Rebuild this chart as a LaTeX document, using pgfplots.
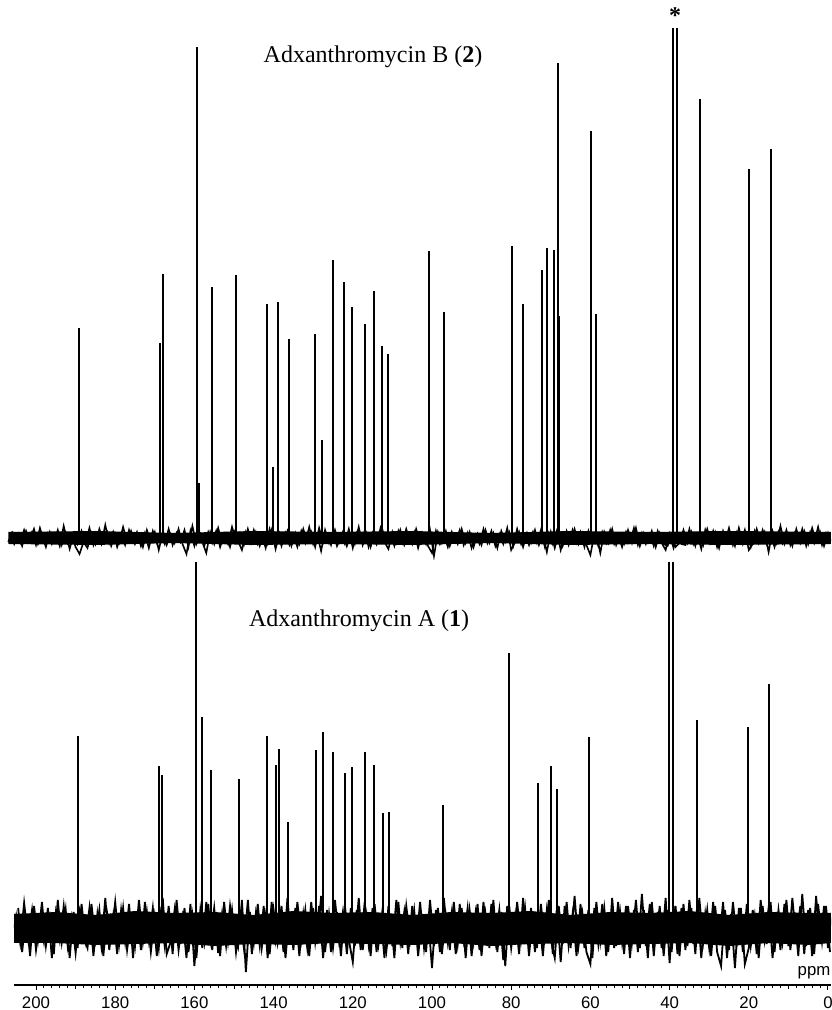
\documentclass[border=0pt]{standalone}
\usepackage{fontspec}
\setmainfont{Liberation Serif}
\setsansfont{Liberation Sans}
\usepackage{pgfplots}
\pgfplotsset{compat=1.18}
\begin{document}
\begin{tikzpicture}
% 1 px of the reference = 0.5pt
% --- top spectrum: Adxanthromycin B (2) ---
\begin{axis}[
    at={(0pt,212.5pt)}, anchor=south west,
    scale only axis, width=415.5pt, height=280pt,
    x dir=reverse, xmin=-0.76, xmax=209.09,
    ymin=-22, ymax=538,
    hide axis,
]
% dense core of the noise band
\addplot[fill=black, draw=none] coordinates {
(207,6)(185,7)(165,5)(145,7)(125,6)(105,7)(85,5)(65,7)(45,6)(25,7)(-0.7,6)
(-0.7,-6)(25,-7)(45,-6)(65,-7)(85,-5)(105,-7)(125,-6)(145,-7)(165,-5)(185,-7)(207,-6)
} -- cycle;
% noise
\addplot[black, line width=0.8pt] coordinates {
(207,-4)(206,6)(205,3)(204,-5)(203,8)(202,-4)(201,6)(200,-7)(199,10)(198,-3)(197,5)(196,-6)
(195,4)(194,-8)(193,12)(192,-5)(191,3)(190,-9)(189,-16)(188,-4)(187,-10)(186,5)
(185,-6)(184,9)(183,-3)(182,6)(181,-8)(180,4)(179,-5)(178,11)(177,-4)(176,7)
(175,-6)(174,3)(173,-9)(172,8)(171,-4)(170,6)(169,-12)(168,5)(167,-7)(166,4)
(165,-5)(164,9)(163,-6)(162,-16)(161,7)(160,-8)(159,5)(158,-4)(157,-15)(156,6)
(155,-6)(154,10)(153,-5)(152,4)(151,-9)(150,7)(149,-3)(148,-12)(147,6)(146,-5)
(145,8)(144,-6)(143,4)(142,-10)(141,9)(140,-4)(139,6)(138,-8)(137,5)(136,-7)
(135,3)(134,-9)(133,7)(132,-5)(131,11)(130,-6)(129,4)(128,-13)(127,8)(126,-5)
(125,6)(124,-8)(123,4)(122,-6)(121,9)(120,-10)(119,5)(118,-4)(117,7)(116,-9)
(115,5)(114,-6)(113,10)(112,-4)(111,-11)(110,6)(109,-5)(108,8)(107,-7)(106,4)
(105,-6)(104,9)(103,-5)(102,3)(101,-8)(100,-15)(99,7)(98,-6)(97,4)(96,-9)
(95,6)(94,-4)(93,8)(92,-7)(91,5)(90,-10)(89,3)(88,-6)(87,9)(86,-5)
(85,7)(84,-8)(83,4)(82,-6)(81,10)(80,-12)(79,-4)(78,6)(77,-9)(76,5)
(75,-5)(74,8)(73,-7)(72,4)(71,-14)(70,6)(69,-10)(68,5)(67,-8)(66,7)
(65,-4)(64,9)(63,-6)(62,5)(61,-7)(60,-17)(59,4)(58,-8)(57,6)(56,-5)
(55,8)(54,-6)(53,3)(52,-9)(51,6)(50,-4)(49,10)(48,-7)(47,5)(46,-6)
(45,4)(44,-8)(43,7)(42,-5)(41,-12)(40,4)(39,-10)(38,5)(37,-6)(36,-7)
(35,9)(34,-6)(33,4)(32,-11)(31,8)(30,-5)(29,7)(28,-9)(27,5)(26,-4)
(25,10)(24,-7)(23,6)(22,-5)(21,8)(20,-12)(19,-6)(18,9)(17,-4)(16,6)
(15,-14)(14,7)(13,-5)(12,12)(11,-6)(10,4)(9,-8)(8,9)(7,-5)(6,7)
(5,-6)(4,10)(3,-4)(2,6)(1,-8)(0,5)(-0.7,-3)
};
\addplot[black, line width=0.8pt] coordinates {
(206.5,5)(205.5,-6)(204.5,4)(203.5,-8)(202.5,7)(201.5,-3)(200.5,9)(199.5,-6)(198.5,3)(197.5,-9)
(196.5,6)(195.5,-4)(194.5,8)(193.5,-7)(192.5,5)(191.5,-11)(190.5,4)(189.5,-6)(188.5,7)(187.5,-5)
(186.5,10)(185.5,-7)(184.5,4)(183.5,-6)(182.5,13)(181.5,-5)(180.5,6)(179.5,-9)(178.5,3)(177.5,-7)
(176.5,8)(175.5,-4)(174.5,6)(173.5,-8)(172.5,5)(171.5,-10)(170.5,7)(169.5,-5)(168.5,4)(167.5,-6)
(166.5,9)(165.5,-7)(164.5,5)(163.5,-4)(162.5,8)(161.5,-9)(160.5,12)(159.5,-6)(158.5,4)(157.5,-8)
(156.5,6)(155.5,-5)(154.5,7)(153.5,-9)(152.5,4)(151.5,-6)(150.5,11)(149.5,-4)(148.5,5)(147.5,-7)
(146.5,9)(145.5,-5)(144.5,6)(143.5,-8)(142.5,4)(141.5,-6)(140.5,8)(139.5,-11)(138.5,5)(137.5,-4)
(136.5,7)(135.5,-8)(134.5,5)(133.5,-6)(132.5,9)(131.5,-4)(130.5,6)(129.5,-9)(128.5,10)(127.5,-5)
(126.5,4)(125.5,-7)(124.5,8)(123.5,-5)(122.5,6)(121.5,-8)(120.5,4)(119.5,-6)(118.5,11)(117.5,-7)
(116.5,5)(115.5,-9)(114.5,6)(113.5,-4)(112.5,8)(111.5,-6)(110.5,4)(109.5,-8)(108.5,7)(107.5,-5)
(106.5,9)(105.5,-4)(104.5,6)(103.5,-10)(102.5,5)(101.5,-6)(100.5,8)(99.5,-18)(98.5,6)(97.5,-5)
(96.5,7)(95.5,-8)(94.5,4)(93.5,-6)(92.5,9)(91.5,-5)(90.5,6)(89.5,-9)(88.5,4)(87.5,-7)
(86.5,8)(85.5,-5)(84.5,5)(83.5,-10)(82.5,7)(81.5,-4)(80.5,6)(79.5,-8)(78.5,9)(77.5,-6)
(76.5,4)(75.5,-7)(74.5,6)(73.5,-5)(72.5,8)(71.5,-9)(70.5,5)(69.5,-6)(68.5,7)(67.5,-12)
(66.5,4)(65.5,-7)(64.5,8)(63.5,-5)(62.5,6)(61.5,-9)(60.5,7)(59.5,-6)(58.5,5)(57.5,-15)
(56.5,6)(55.5,-5)(54.5,9)(53.5,-7)(52.5,4)(51.5,-6)(50.5,8)(49.5,-5)(48.5,10)(47.5,-8)
(46.5,5)(45.5,-4)(44.5,7)(43.5,-9)(42.5,5)(41.5,-6)(40.5,-8)(39.5,3)(38.5,-9)(37.5,-5)
(36.5,8)(35.5,-5)(34.5,6)(33.5,-8)(32.5,5)(31.5,-7)(30.5,9)(29.5,-4)(28.5,6)(27.5,-10)
(26.5,7)(25.5,-5)(24.5,4)(23.5,-8)(22.5,10)(21.5,-6)(20.5,5)(19.5,-9)(18.5,7)(17.5,-5)
(16.5,8)(15.5,-6)(14.5,4)(13.5,-9)(12.5,6)(11.5,-5)(10.5,8)(9.5,-7)(8.5,5)(7.5,-4)
(6.5,9)(5.5,-8)(4.5,6)(3.5,-5)(2.5,11)(1.5,-7)(0.5,5)(-0.5,-4)
};
% peaks
\addplot[ycomb, black, line width=1.1pt] coordinates {
(189.1,210)(168.69,195)(167.93,264)(159.34,491)(158.84,55)(155.56,251)
(149.49,263)(141.67,234)(140.15,71)(138.89,236)(136.11,199)(129.55,204)
(127.78,98)(125.0,278)(122.22,256)(120.2,231)(116.92,214)(114.65,247)
(112.63,192)(111.11,184)(100.76,287)(96.97,226)(79.8,292)(77.02,234)
(72.22,268)(70.96,290)(69.19,288)(68.18,475)(67.93,222)(59.85,407)
(58.59,224)(39.14,510)(38.13,510)(32.32,439)(19.95,369)(14.39,389)
};
\node[font=\fontsize{12}{14}\selectfont] at (axis cs:114.9,481) {Adxanthromycin B (\textbf{2})};
\node[font=\bfseries\fontsize{12}{14}\selectfont, inner sep=0pt] at (axis cs:38.6,522) {*};
\end{axis}

% --- bottom spectrum: Adxanthromycin A (1) ---
\begin{axis}[
    at={(7pt,0pt)}, anchor=south west,
    scale only axis, width=408.5pt, height=211pt,
    x dir=reverse, xmin=-0.76, xmax=205.56,
    ymin=-57, ymax=365,
    axis x line=bottom, axis y line=none,
    axis line style={-, line width=0.75pt},
    xtick={0,20,...,200},
    minor x tick num=9,
    extra x ticks={10,30,...,190},
    extra x tick labels={},
    extra x tick style={major tick length=1.8pt},
    tick align=outside,
    major tick length=2.4pt, minor tick length=1.3pt,
    tick style={black, line width=0.5pt},
    xticklabel style={font=\sffamily\fontsize{8.4}{9}\selectfont, inner sep=0pt, yshift=-3.5pt},
    /pgf/number format/assume math mode=true,
]
% dense core of the noise band
\addplot[fill=black, draw=none] coordinates {
(205.5,14)(195,16)(185,13)(175,17)(165,15)(155,16)(145,13)(135,17)(125,15)(115,16)(105,13)
(95,16)(85,15)(75,17)(65,13)(55,16)(45,15)(35,17)(25,13)(15,16)(5,15)(-0.7,15)
(-0.7,-15)(5,-17)(15,-15)(25,-18)(35,-15)(45,-16)(55,-17)(65,-15)(75,-16)(85,-18)(95,-15)
(105,-17)(115,-16)(125,-15)(135,-17)(145,-16)(155,-18)(165,-15)(175,-16)(185,-17)(195,-15)(205.5,-15)
} -- cycle;
% noise
\addplot[black, line width=0.9pt] coordinates {
(205.5,0)(205,12)(204,-15)(203,25)(202,-10)(201,18)(200,-22)(199,8)(198,-14)(197,20)(196,-30)
(195,15)(194,-12)(193,22)(192,-18)(191,10)(190,-25)(189,16)(188,-8)(187,-20)(186,24)
(185,-12)(184,18)(183,-28)(182,14)(181,-10)(180,26)(179,-16)(178,20)(177,-22)(176,9)
(175,-18)(174,28)(173,-14)(172,16)(171,-24)(170,12)(169,-20)(168,30)(167,-26)(166,-14)
(165,18)(164,-22)(163,10)(162,-30)(161,24)(160,-38)(159,15)(158,-20)(157,26)(156,-12)
(155,20)(154,-25)(153,14)(152,-18)(151,22)(150,-10)(149,-20)(148,28)(147,-44)(146,16)
(145,-15)(144,24)(143,-20)(142,12)(141,-26)(140,18)(139,-14)(138,22)(137,-30)(136,15)
(135,-22)(134,26)(133,-12)(132,18)(131,-28)(130,20)(129,-16)(128,32)(127,-24)(126,14)
(125,-20)(124,16)(123,-28)(122,22)(121,-12)(120,-34)(119,18)(118,-22)(117,26)(116,-16)
(115,20)(114,-24)(113,14)(112,-30)(111,22)(110,-18)(109,28)(108,-14)(107,16)(106,-26)
(105,22)(104,-16)(103,26)(102,-20)(101,12)(100,-40)(99,18)(98,-24)(97,30)(96,-14)
(95,16)(94,-26)(93,24)(92,-12)(91,20)(90,-28)(89,14)(88,-22)(87,26)(86,-18)
(85,24)(84,-14)(83,18)(82,-32)(81,22)(80,-20)(79,12)(78,-26)(77,30)(76,-16)
(75,20)(74,-24)(73,14)(72,-28)(71,18)(70,-12)(69,-30)(68,22)(67,-16)(66,26)
(65,-20)(64,32)(63,-18)(62,14)(61,-24)(60,-36)(59,20)(58,-16)(57,24)(56,-28)
(55,16)(54,-20)(53,26)(52,-14)(51,22)(50,-30)(49,18)(48,-24)(47,34)(46,-18)
(45,24)(44,-28)(43,16)(42,-20)(41,30)(40,-35)(39,22)(38,-26)(37,20)(36,-22)
(35,28)(34,-16)(33,22)(32,-30)(31,14)(30,-20)(29,26)(28,-24)(27,-38)(26,18)
(25,-22)(24,26)(23,-14)(22,20)(21,-36)(20,-20)(19,18)(18,-26)(17,28)(16,-12)
(15,20)(14,-30)(13,16)(12,-22)(11,24)(10,-18)(9,30)(8,-14)(7,22)(6,-26)
(5,18)(4,-28)(3,32)(2,-16)(1,22)(0,-20)(-0.7,10)
};
\addplot[black, line width=0.9pt] coordinates {
(204.5,20)(203.5,-24)(202.5,14)(201.5,-28)(200.5,22)(199.5,-12)(198.5,26)(197.5,-18)(196.5,10)(195.5,-26)
(194.5,28)(193.5,-14)(192.5,18)(191.5,-30)(190.5,16)(189.5,-20)(188.5,24)(187.5,-12)(186.5,20)(185.5,-28)
(184.5,14)(183.5,-18)(182.5,30)(181.5,-22)(180.5,12)(179.5,-26)(178.5,18)(177.5,-14)(176.5,24)(175.5,-30)
(174.5,16)(173.5,-22)(172.5,26)(171.5,-12)(170.5,20)(169.5,-28)(168.5,14)(167.5,-18)(166.5,22)(165.5,-26)
(164.5,28)(163.5,-16)(162.5,20)(161.5,-24)(160.5,12)(159.5,-30)(158.5,18)(157.5,-14)(156.5,24)(155.5,-22)
(154.5,16)(153.5,-28)(152.5,26)(151.5,-14)(150.5,18)(149.5,-24)(148.5,12)(147.5,-20)(146.5,28)(145.5,-26)
(144.5,14)(143.5,-18)(142.5,22)(141.5,-30)(140.5,26)(139.5,-12)(138.5,18)(137.5,-24)(136.5,30)(135.5,-16)
(134.5,20)(133.5,-28)(132.5,14)(131.5,-20)(130.5,26)(129.5,-14)(128.5,22)(127.5,-30)(126.5,18)(125.5,-24)
(124.5,28)(123.5,-12)(122.5,16)(121.5,-26)(120.5,20)(119.5,-18)(118.5,30)(117.5,-22)(116.5,12)(115.5,-28)
(114.5,24)(113.5,-16)(112.5,18)(111.5,-22)(110.5,14)(109.5,-30)(108.5,26)(107.5,-20)(106.5,22)(105.5,-12)
(104.5,18)(103.5,-28)(102.5,14)(101.5,-24)(100.5,28)(99.5,-18)(98.5,20)(97.5,-26)(96.5,12)(95.5,-22)
(94.5,26)(93.5,-16)(92.5,20)(91.5,-30)(90.5,18)(89.5,-14)(88.5,24)(87.5,-28)(86.5,14)(85.5,-20)
(84.5,28)(83.5,-24)(82.5,16)(81.5,-38)(80.5,22)(79.5,-16)(78.5,26)(77.5,-12)(76.5,20)(75.5,-28)
(74.5,16)(73.5,-20)(72.5,24)(71.5,-14)(70.5,28)(69.5,-26)(68.5,18)(67.5,-34)(66.5,22)(65.5,-18)
(64.5,14)(63.5,-28)(62.5,24)(61.5,-20)(60.5,18)(59.5,-30)(58.5,26)(57.5,-14)(56.5,20)(55.5,-24)
(54.5,30)(53.5,-18)(52.5,16)(51.5,-26)(50.5,22)(49.5,-14)(48.5,28)(47.5,-20)(46.5,18)(45.5,-30)
(44.5,26)(43.5,-16)(42.5,22)(41.5,-28)(40.5,18)(39.5,-24)(38.5,22)(37.5,-28)(36.5,24)(35.5,-18)
(34.5,20)(33.5,-26)(32.5,30)(31.5,-14)(30.5,18)(29.5,-28)(28.5,22)(27.5,-16)(26.5,26)(25.5,-30)
(24.5,14)(23.5,-40)(22.5,20)(21.5,-24)(20.5,24)(19.5,-18)(18.5,12)(17.5,-30)(16.5,22)(15.5,-16)
(14.5,26)(13.5,-24)(12.5,18)(11.5,-14)(10.5,28)(9.5,-22)(8.5,16)(7.5,-28)(6.5,34)(5.5,-18)
(4.5,20)(3.5,-26)(2.5,24)(1.5,-14)(0.5,22)(-0.5,-24)
};
% peaks
\addplot[ycomb, black, line width=1.1pt] coordinates {
(189.39,192)(168.94,162)(168.18,153)(159.6,400)(158.08,211)(155.81,158)
(148.74,149)(141.67,192)(139.39,163)(138.64,179)(136.36,106)(129.29,178)
(127.53,196)(125.0,176)(121.97,155)(120.2,161)(116.92,176)(114.65,163)
(112.37,115)(110.86,116)(97.22,123)(80.56,275)(73.23,145)(69.95,162)
(68.43,139)(60.35,191)(40.15,400)(39.14,400)(33.08,208)(20.2,201)(14.9,244)
};
\node[font=\fontsize{12}{14}\selectfont] at (axis cs:118.4,307) {Adxanthromycin A (\textbf{1})};
\node[font=\sffamily\fontsize{8.4}{9}\selectfont, anchor=base east, inner sep=0pt] at (axis cs:-0.7,-47) {ppm};
\end{axis}
\pgfresetboundingbox
\path (0pt,-12.5pt) rectangle (415.5pt,492.5pt);
\end{tikzpicture}
\end{document}
